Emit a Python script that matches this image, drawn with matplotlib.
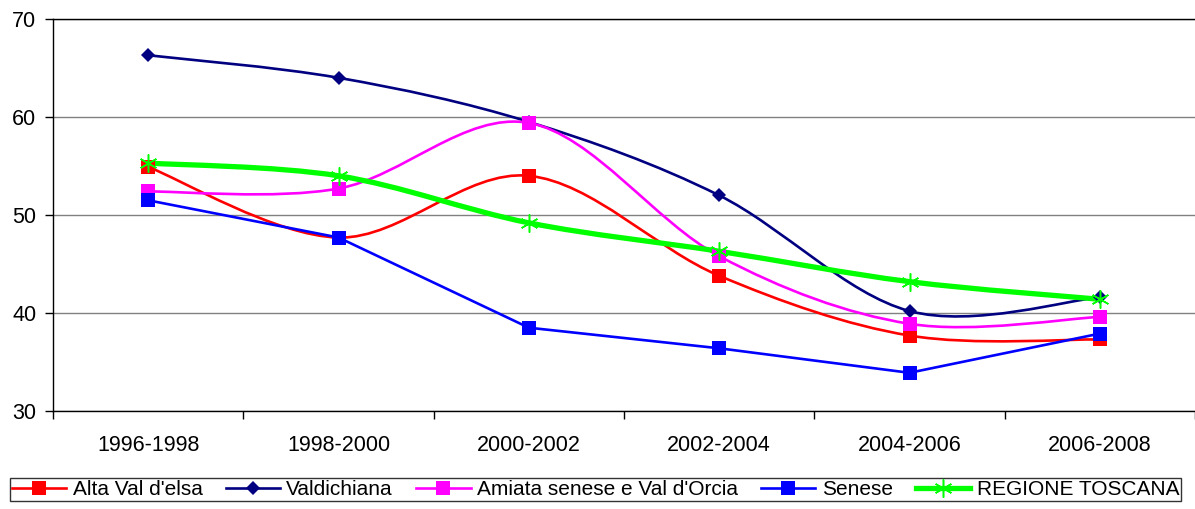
import matplotlib.pyplot as plt
from matplotlib.path import Path
from matplotlib.patches import PathPatch
from matplotlib.lines import Line2D
import numpy as np

plt.rcParams['font.family'] = ['Liberation Sans', 'DejaVu Sans']

periods = ['1996-1998', '1998-2000', '2000-2002', '2002-2004', '2004-2006', '2006-2008']
alta_val_delsa = [54.9, 47.7, 54.0, 43.8, 37.7, 37.3]
valdichiana = [66.3, 64.0, 59.5, 52.0, 40.2, 41.6]
amiata = [52.4, 52.7, 59.4, 45.8, 38.9, 39.6]
senese = [51.5, 47.7, 38.5, 36.4, 33.9, 37.9]
regione = [55.3, 54.0, 49.2, 46.3, 43.2, 41.4]

series = [
    ("Alta Val d'elsa", alta_val_delsa, '#ff0000', 's', 1.9, 10, True),
    ('Valdichiana', valdichiana, '#000080', 'D', 1.9, 7, True),
    ("Amiata senese e Val d'Orcia", amiata, '#ff00ff', 's', 1.9, 10, True),
    ('Senese', senese, '#0000ff', 's', 1.9, 10, False),
    ('REGIONE TOSCANA', regione, '#00ff00', (6, 2, 0), 3.8, 13, True),
]


def smooth_path(x, y):
    # Excel-like smoothing: cubic Bezier with Catmull-Rom control points
    pts = np.column_stack([x, y])
    n = len(pts)
    verts = [pts[0]]
    codes = [Path.MOVETO]
    for i in range(n - 1):
        p0 = pts[i - 1] if i > 0 else pts[i]
        p1 = pts[i]
        p2 = pts[i + 1]
        p3 = pts[i + 2] if i + 2 < n else pts[i + 1]
        c1 = p1 + (p2 - p0) / 6
        c2 = p2 - (p3 - p1) / 6
        verts += [c1, c2, p2]
        codes += [Path.CURVE4] * 3
    return Path(verts, codes)


fig = plt.figure(figsize=(11.95, 5.09), dpi=100)
ax = fig.add_axes([0.0444, 0.1925, 0.9556, 0.7702])

x = np.arange(len(periods)) + 0.5
handles = []
for name, vals, color, marker, lw, ms, smooth in series:
    if smooth:
        ax.add_patch(PathPatch(smooth_path(x, vals), facecolor='none',
                               edgecolor=color, lw=lw, zorder=3))
    else:
        ax.plot(x, vals, color=color, lw=lw, zorder=3)
    mew = 1.1 if marker == (6, 2, 0) else 0
    ax.plot(x, vals, linestyle='none', marker=marker, markersize=ms,
            color=color, markeredgecolor=color, markeredgewidth=mew, zorder=4)
    handles.append(Line2D([], [], color=color, lw=lw, marker=marker,
                          markersize=ms, markeredgewidth=mew, label=name))

ax.set_xlim(0, 6)
ax.set_ylim(30, 70)
ax.set_yticks([30, 40, 50, 60, 70])
ax.set_xticks(x)
ax.set_xticklabels(periods)
ax.set_xticks(np.arange(0, 7), minor=True)
ax.tick_params(axis='x', which='major', length=0, pad=17, labelsize=15.5)
ax.tick_params(axis='x', which='minor', length=6, width=1, direction='out')
ax.tick_params(axis='y', length=6, width=1, pad=6, labelsize=15.5)
ax.yaxis.grid(True, color='#808080', lw=1)
ax.set_axisbelow(True)
ax.spines['right'].set_visible(False)
for s in ['left', 'bottom', 'top']:
    ax.spines[s].set_color('black')
    ax.spines[s].set_linewidth(1)

leg = fig.legend(handles=handles, loc='upper left', bbox_to_anchor=(0.0084, 0.0, 0.98, 0.061),
                 mode='expand', ncol=5, fontsize=15, frameon=True, fancybox=False,
                 edgecolor='black', handlelength=2.6, handletextpad=0.3,
                 borderaxespad=0, borderpad=0.1)
leg.get_frame().set_linewidth(1)

fig.savefig('out.png', dpi=100)
